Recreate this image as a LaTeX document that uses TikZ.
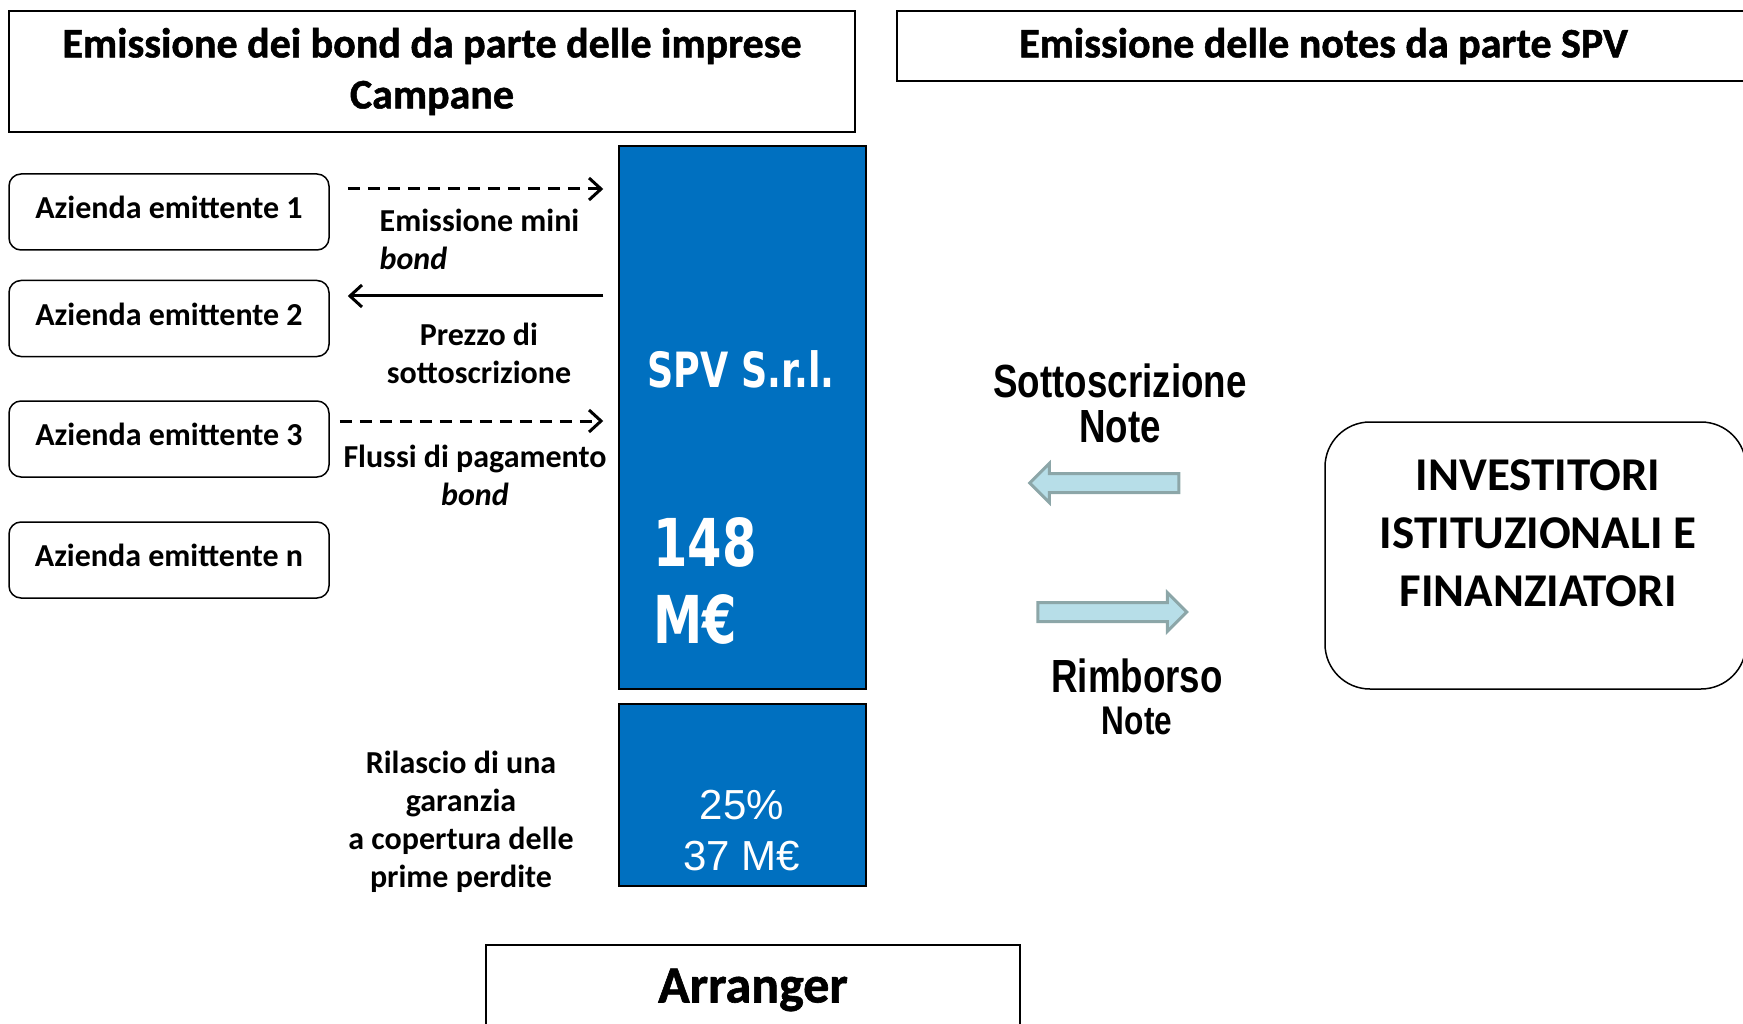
\documentclass[tikz,border=0pt]{standalone}
\usepackage{fontspec}
\setmainfont{Carlito}
\newfontfamily\titlefont[FakeBold=1.2]{Carlito}
\newfontfamily\arialn[FakeStretch=0.79]{Liberation Sans}
\newfontfamily\arialf{Liberation Sans}
\newfontfamily\verdn[FakeStretch=0.75]{DejaVu Sans}
\usetikzlibrary{positioning, shapes.arrows, arrows.meta}
\definecolor{spvblue}{RGB}{0,112,192}
\definecolor{fatfill}{RGB}{183,222,232}
\definecolor{fatline}{RGB}{140,166,168}

\begin{document}
\begin{tikzpicture}[x=1pt, y=-1pt,
  titlebox/.style={draw, line width=1.5pt, align=center, font=\titlefont\bfseries\fontsize{42}{51}\selectfont},
  firm/.style={draw, line width=1.5pt, rounded corners=12pt, minimum width=320pt, minimum height=76pt, text depth=9pt, font=\bfseries\fontsize{32}{39}\selectfont},
  lbl/.style={align=center, inner sep=0pt, font=\bfseries\fontsize{32}{38}\selectfont},
  spvbox/.style={draw, line width=1.5pt, fill=spvblue, minimum width=247pt},
  flow/.style={line width=3pt, -{Straight Barb[length=12pt,width=22pt]}},
  dashflow/.style={flow, dash pattern=on 12pt off 8pt},
  fat/.style={single arrow, draw=fatline, fill=fatfill, line width=3pt, minimum height=149pt, inner xsep=0pt, inner ysep=8pt, single arrow head extend=10pt}
]
  \useasboundingbox (0,0) rectangle (1743,1024);

  % titoli
  \node[titlebox, minimum width=846pt, minimum height=121pt] (tleft) at (432,71.5) {Emissione dei bond da parte delle imprese\\Campane};
  \node[titlebox, minimum width=853pt, minimum height=70pt] (tright) at (1323.5,46) {Emissione delle notes da parte SPV};

  % imprese
  \node[firm] (az1) at (169,212) {Azienda emittente 1};
  \node[firm] (az2) at (169,318.5) {Azienda emittente 2};
  \node[firm] (az3) at (169,439) {Azienda emittente 3};
  \node[firm] (azn) at (169,560) {Azienda emittente n};

  % veicolo
  \node[spvbox, minimum height=543pt] (spv) at (742.5,417.5) {};
  \node[spvbox, minimum height=182pt] (tranche) at (742.5,795) {};
  \node[text=white, font=\verdn\bfseries\fontsize{48.6}{58}\selectfont] (spvname) at (741,369) {SPV S.r.l.};
  \node[text=white, anchor=west, align=left, inner sep=0pt, font=\verdn\bfseries\fontsize{66}{77}\selectfont] (spvamt) at (653,580.5) {148\\M€};
  \node[text=white, align=center, inner sep=0pt, font=\arialf\fontsize{42}{51}\selectfont] (tranchelbl) at (742,830.5) {25\%\\37 M€};

  % flussi
  \coordinate (r1) at (0,189);
  \coordinate (r2) at (0,296);
  \coordinate (r3) at (0,421);
  \draw[dashflow, shorten <=18pt, shorten >=15pt] (az1.east |- r1) -- (spv.west |- r1);
  \draw[flow, shorten <=15pt, shorten >=18pt] (spv.west |- r2) -- (az2.east |- r2);
  \draw[dashflow, shorten <=10pt, shorten >=15pt] (az3.east |- r3) -- (spv.west |- r3);
  \node[lbl, align=left] (lblem) at (479.5,239) {Emissione mini\\\textit{bond}};
  \node[lbl] (lblpr) at (479,353.5) {Prezzo di\\sottoscrizione};
  \node[lbl] (lblfl) at (475,475) {Flussi di pagamento\\\textit{bond}};
  \node[lbl] (guar) at (461,822) {Rilascio di una\\garanzia\\a copertura delle\\prime perdite};

  % arranger
  \node[titlebox, minimum width=534pt, minimum height=90pt, font=\titlefont\bfseries\fontsize{52}{62}\selectfont] (arr) at (753,990) {Arranger};

  % investitori
  \node[draw, line width=1.5pt, rounded corners=45pt, minimum width=421pt, minimum height=267pt] (inv) at (1535.5,555.5) {};
  \node[align=center, inner sep=0pt, font=\bfseries\fontsize{47}{58}\selectfont] (invlbl) at (1538,533.5) {INVESTITORI\\ISTITUZIONALI E\\FINANZIATORI};
  \node[fat, shape border rotate=180] (fatin) at (1109,483) {};
  \node[fat] (fatout) at (1107.5,612) {};
  \node[align=center, inner sep=0pt, font=\arialn\bfseries\fontsize{46.5}{45}\selectfont] (subs) at (1120,403.5) {Sottoscrizione\\Note};
  \node[align=center, inner sep=0pt, font=\arialn\bfseries\fontsize{46.5}{42}\selectfont] (repay) at (1137,697) {Rimborso\\{\fontsize{40}{42}\selectfont Note}};
\end{tikzpicture}
\end{document}
